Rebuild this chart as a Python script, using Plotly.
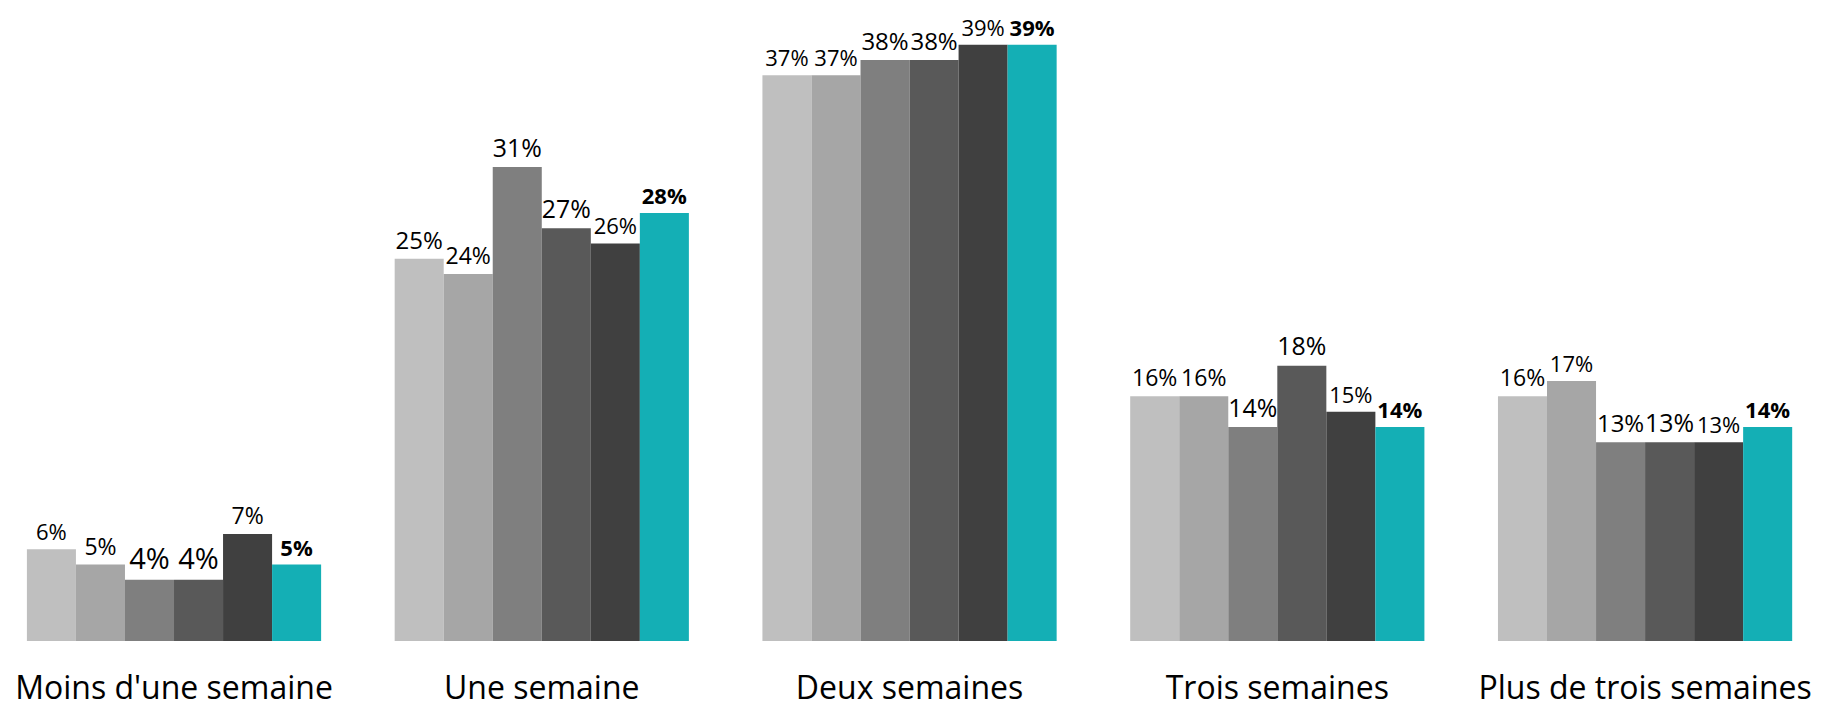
import plotly.graph_objects as go

categories = ["Moins d'une semaine", "Une semaine", "Deux semaines",
              "Trois semaines", "Plus de trois semaines"]

# six series, one per bar position in each group
s1 = [6, 25, 37, 16, 16]
s2 = [5, 24, 37, 16, 17]
s3 = [4, 31, 38, 14, 13]
s4 = [4, 27, 38, 18, 13]
s5 = [7, 26, 39, 15, 13]
s6 = [5, 28, 39, 14, 14]

# label font sizes as they appear in the picture (uneven in the source)
sz1 = [22, 24, 22, 23, 23]
sz2 = [23, 23, 22, 23, 22]
sz3 = [29, 25, 24, 29, 24]
sz4 = [29, 27, 24, 27, 26]
sz5 = [23, 22, 22, 22, 22]
sz6 = [22, 22, 22, 22, 22]

series = [s1, s2, s3, s4, s5, s6]
sizes = [sz1, sz2, sz3, sz4, sz5, sz6]
colors = ["#BFBFBF", "#A6A6A6", "#7F7F7F", "#595959", "#404040", "#14AFB5"]

fig = go.Figure()
for i, (vals, sz, col) in enumerate(zip(series, sizes, colors)):
    last = i == len(series) - 1
    fig.add_trace(go.Bar(
        x=categories,
        y=vals,
        marker_color=col,
        marker_line_width=0,
        text=[f"{v}%" for v in vals],
        textposition="outside",
        textfont=dict(size=sz, color="black", family="Open Sans",
                      weight="bold" if last else "normal"),
        cliponaxis=False,
        showlegend=False,
    ))

# page body has an 8px margin, so the figure is a bit smaller than the window
fig.update_layout(
    width=1825, height=700,
    barmode="group", bargap=0.2, bargroupgap=0,
    plot_bgcolor="white", paper_bgcolor="white",
    margin=dict(l=0, r=0, t=0, b=63),
    font=dict(family="Open Sans", color="black"),
)
fig.update_xaxes(range=[-0.4514, 4.511], showgrid=False, showline=False,
                 ticks="", tickfont=dict(size=32), ticklabelstandoff=25)
fig.update_yaxes(range=[0, 41.4], visible=False, showgrid=False)

fig.write_html("out.html")
